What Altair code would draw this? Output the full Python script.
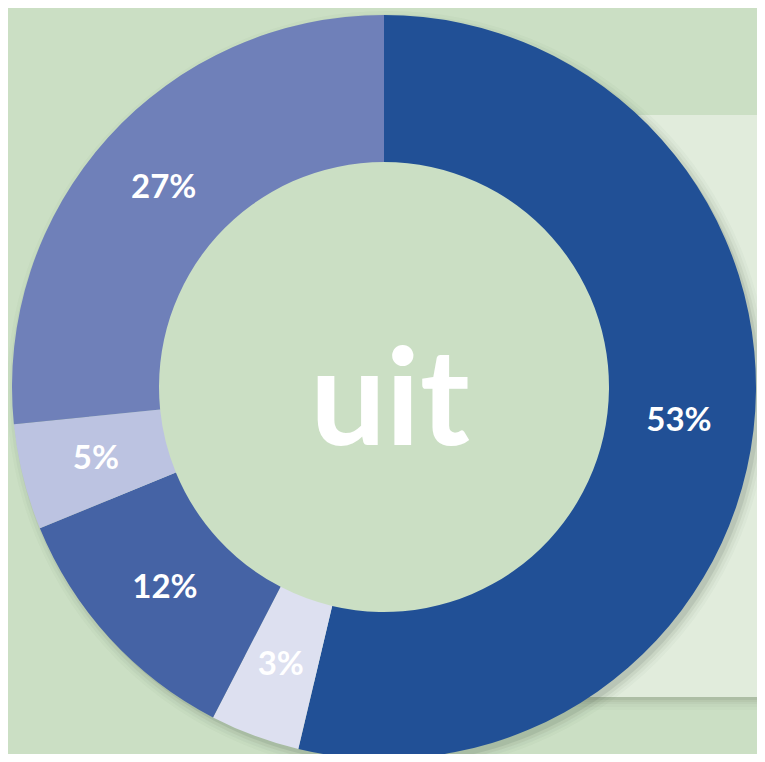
import altair as alt
import pandas as pd

# Data
labels = ["53%", "3%", "12%", "5%", "27%"]
shares = [53.7, 3.9, 11.2, 4.6, 26.6]
order = [0, 1, 2, 3, 4]
colors = ["#215096", "#dde0f0", "#4563a5", "#bcc3e1", "#6f80b9"]
center_text = ["uit"]

BG = "#cbdfc4"
PANEL = "#e1ecdc"
W, H = 749, 746
CX, CY = 376, 379
R_OUT, R_IN = 372, 225

df = pd.DataFrame({"label": labels, "share": shares, "idx": order})
one = pd.DataFrame({"t": center_text})

# light panel at right with a soft shadow below
panel_shadows = [
    alt.Chart(one).mark_rect(color="#5f6b58", opacity=op).encode(
        x=alt.value(552), x2=alt.value(W + 5),
        y=alt.value(107 + d), y2=alt.value(689 + d + 2),
    )
    for d, op in [(1, 0.10), (3, 0.07), (5, 0.05), (8, 0.04), (11, 0.03)]
]
panel = alt.Chart(one).mark_rect(color=PANEL).encode(
    x=alt.value(552), x2=alt.value(W + 5), y=alt.value(107), y2=alt.value(689)
)

# soft shadow around the donut
ring_shadows = [
    alt.Chart(one).mark_arc(
        x=CX + 4, y=CY + 5, innerRadius=300, outerRadius=R_OUT + e, color="#4d5a48", opacity=op
    ).encode(theta=alt.value(0), theta2=alt.value(6.2832))
    for e, op in [(0, 0.12), (3, 0.08), (6, 0.05), (9, 0.03)]
]

# the hole of the donut shows the page background
hole = alt.Chart(one).mark_arc(
    x=CX, y=CY, innerRadius=0, outerRadius=R_IN + 2, color=BG
).encode(theta=alt.value(0), theta2=alt.value(6.2832))

base = alt.Chart(df).encode(
    theta=alt.Theta("share:Q", stack=True),
    order=alt.Order("idx:Q"),
)

donut = base.mark_arc(x=CX, y=CY, innerRadius=R_IN, outerRadius=R_OUT).encode(
    color=alt.Color("label:N", scale=alt.Scale(domain=labels, range=colors), legend=None)
)

text = base.mark_text(
    x=CX, y=CY, radius=297, font="Lato", fontWeight="bold", fontSize=33,
    color="white", align="center", baseline="middle",
).encode(text="label:N")

center = alt.Chart(one).mark_text(
    x=382, y=437, font="Lato", fontWeight="bold", fontSize=134,
    color="white", align="center", baseline="alphabetic",
).encode(text="t:N")

chart = alt.layer(*panel_shadows, panel, *ring_shadows, hole, donut, text, center).properties(
    width=W, height=H, background=BG, padding=0,
    autosize=alt.AutoSizeParams(type="none"),
).configure_view(stroke=None)

chart.save("out.html", embed_options={"renderer": "svg", "actions": False})
